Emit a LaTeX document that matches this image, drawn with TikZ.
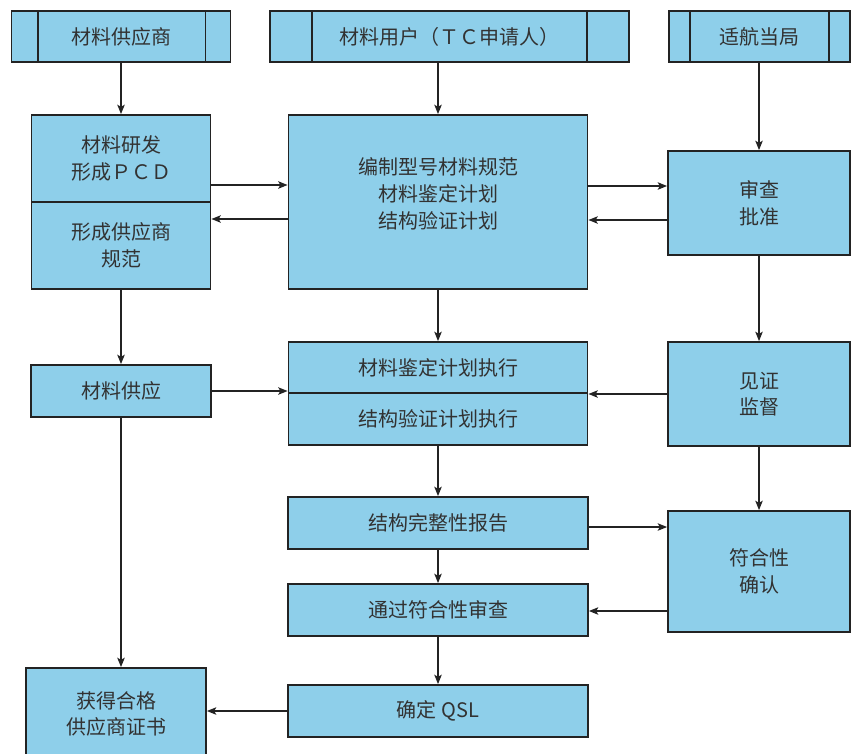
\documentclass[tikz,border=0pt]{standalone}
\usepackage{fontspec}
\newfontfamily\cjk{Noto Sans CJK SC}
\usetikzlibrary{arrows.meta,calc}
\definecolor{boxfill}{RGB}{142,207,234}
\definecolor{ink}{RGB}{35,35,35}
\definecolor{txt}{RGB}{50,50,50}
\begin{document}
\begin{tikzpicture}[x=0.75pt,y=-0.75pt,
  box/.style={draw=ink, line width=1.3pt, fill=boxfill, inner sep=0pt, align=center,
    font=\cjk\fontsize{15pt}{20pt}\selectfont, text=txt},
  wh/.style 2 args={minimum width=#1*0.75pt, minimum height=#2*0.75pt},
  btxt/.style={inner sep=0pt, align=center, font=\cjk\fontsize{15pt}{20pt}\selectfont, text=txt},
  divline/.style={draw=ink, line width=1.3pt},
  arr/.style={draw=ink, line width=1.2pt, -{Stealth[length=7pt,width=5.5pt,inset=1.5pt]}},
]
\useasboundingbox (0,0) rectangle (856,753);
\fill[white] (0,0) rectangle (856,753);

% top row
\node[box,wh={219}{51}] (b1) at (121,36.5) {材料供应商};
\draw[divline] ([xshift=20.25pt]b1.north west) -- ([xshift=20.25pt]b1.south west);
\draw[divline] ([xshift=-19.5pt]b1.north east) -- ([xshift=-19.5pt]b1.south east);

\node[box,wh={359}{51}] (b2) at (449.5,36.5) {材料用户（ＴＣ申请人）};
\draw[divline] ([xshift=32.25pt]b2.north west) -- ([xshift=32.25pt]b2.south west);
\draw[divline] ([xshift=-32.25pt]b2.north east) -- ([xshift=-32.25pt]b2.south east);

\node[box,wh={181}{51}] (b3) at (759.5,36.5) {适航当局};
\draw[divline] ([xshift=16.5pt]b3.north west) -- ([xshift=16.5pt]b3.south west);
\draw[divline] ([xshift=-16.5pt]b3.north east) -- ([xshift=-16.5pt]b3.south east);

% second row
\node[box,wh={179}{87}] (rd) at (121,158.5) {材料研发\\形成ＰＣＤ};
\node[box,wh={179}{87}] (sp) at (121,245.5) {形成供应商\\规范};
\node[box,wh={299}{174}] (bg) at (438,202) {};
\node[btxt] (bgt) at (438,194) {编制型号材料规范\\材料鉴定计划\\结构验证计划};
\node[box,wh={182}{104}] (sc) at (759,203) {审查\\批准};

% third row
\node[box,wh={180}{52}] (gy) at (121,391) {材料供应};
\node[box,wh={299}{51}] (zx1) at (438,367.5) {材料鉴定计划执行};
\node[box,wh={299}{52}] (zx2) at (438,419) {结构验证计划执行};
\node[box,wh={182}{104}] (jz) at (759,394) {见证\\监督};

% lower rows
\node[box,wh={300}{52}] (wz) at (438,523) {结构完整性报告};
\node[box,wh={182}{121}] (fh) at (759,571.5) {符合性\\确认};
\node[box,wh={300}{52}] (tg) at (438,610) {通过符合性审查};
\node[box,wh={300}{52}] (qsl) at (438,711) {确定 QSL};
\node[box,wh={180}{92}] (hd) at (116,714) {获得合格\\供应商证书};

% connectors
\draw[arr] (b1.south) -- (rd.north);
\draw[arr] (b2.south -| bg.north) -- (bg.north);
\draw[arr] (b3.south -| sc.north) -- (sc.north);
\draw[arr] (rd.east |- 0,185) -- (bg.west |- 0,185);
\draw[arr] (bg.west |- 0,219) -- (sp.east |- 0,219);
\draw[arr] (bg.east |- 0,186) -- (sc.west |- 0,186);
\draw[arr] (sc.west |- 0,220) -- (bg.east |- 0,220);
\draw[arr] (sp.south) -- (sp.south |- gy.north);
\draw[arr] (bg.south) -- (zx1.north);
\draw[arr] (sc.south) -- (jz.north);
\draw[arr] (gy.east) -- (gy.east -| zx1.west);
\draw[arr] (jz.west) -- (jz.west -| zx1.east);
\draw[arr] (zx2.south) -- (zx2.south |- wz.north);
\draw[arr] (jz.south) -- (fh.north);
\draw[arr] (wz.east |- 0,527) -- (fh.west |- 0,527);
\draw[arr] (wz.south) -- (tg.north);
\draw[arr] (fh.west |- 0,611) -- (tg.east |- 0,611);
\draw[arr] (tg.south) -- (qsl.north);
\draw[arr] (qsl.west) -- (qsl.west -| hd.east);
\draw[arr] (gy.south) -- (gy.south |- hd.north);
\end{tikzpicture}
\end{document}
